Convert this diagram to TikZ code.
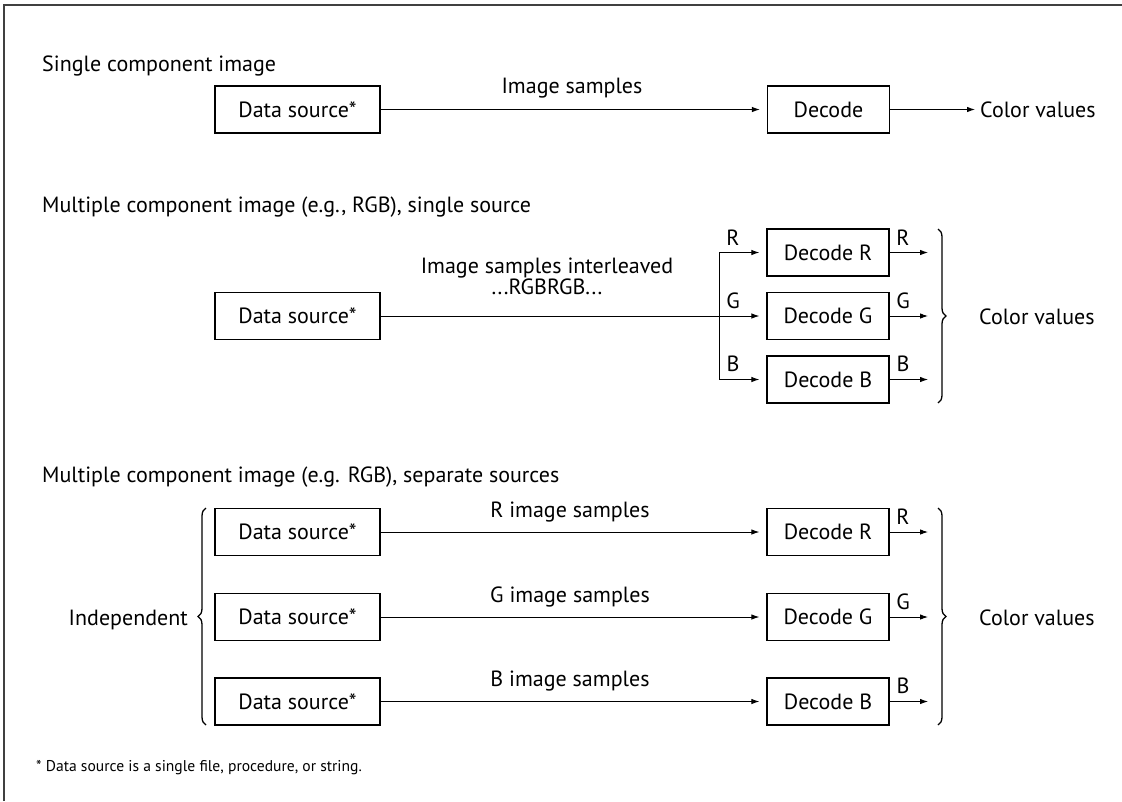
\documentclass[tikz,border=0pt]{standalone}
\usepackage{fontspec}
\setmainfont{PT Sans}
\usetikzlibrary{arrows.meta,decorations.pathreplacing}
\begin{document}
\begin{tikzpicture}[x=1pt,y=-1pt,
  every node/.style={font=\fontsize{22}{24}\selectfont, inner sep=0pt},
  box/.style={draw, line width=1.3pt, minimum height=47pt, text height=15pt, text depth=0pt},
  src/.style={box, minimum width=165pt},
  dec/.style={box, minimum width=122pt},
  conn/.style={line width=0.9pt, -{Latex[length=8pt,width=5.5pt]}},
  gap/.style={shorten >=7pt},
  lbl/.style={anchor=base},
  title/.style={anchor=base west},
  brc/.style={decorate, decoration={brace, amplitude=8pt}, line width=1.3pt},
  frame/.style={line width=1.5pt, black!75}
]
\useasboundingbox (0,0) rectangle (1122,801);
\draw[frame] (4,801) -- (4,5) -- (1122,5);

% ---- Single component image
\node[title] (t1) at (42,71) {Single component image};
\node[src] (s1) at (297.5,109.5) {Data source*};
\node[dec] (d1) at (828.5,109.5) {Decode};
\node[lbl] (l1) at (572,93) {Image samples};
\draw[conn,gap] (s1) -- (d1);
\coordinate (o1) at (975,109.5);
\draw[conn] (d1) -- (o1);
\node[anchor=base west] (c1) at (980,117) {Color values};

% ---- Multiple component, single source
\node[title] (t2) at (42,212) {Multiple component image (e.g., RGB), single source};
\node[src] (s2) at (297.5,316) {Data source*};
\node[dec] (d2r) at (828,252.5) {Decode R};
\node[dec] (d2g) at (828,316) {Decode G};
\node[dec] (d2b) at (828,379.5) {Decode B};
\node[anchor=south, align=center, font=\fontsize{22}{15.5}\selectfont] (l2) at (547,295) {Image samples interleaved\\...RGBRGB...};
\coordinate (br) at (719,316);
\draw[conn,gap] (s2) -- (d2g);
\draw[conn,gap] (br) |- (d2r);
\draw[conn,gap] (br) |- (d2b);
\node[lbl] (iR) at (733,245) {R};
\node[lbl] (iG) at (733,308) {G};
\node[lbl] (iB) at (733,371.5) {B};
\coordinate (o2r) at (928,252.5);
\coordinate (o2g) at (928,316);
\coordinate (o2b) at (928,379.5);
\draw[conn] (d2r) -- (o2r);
\draw[conn] (d2g) -- (o2g);
\draw[conn] (d2b) -- (o2b);
\node[lbl] (oR) at (903,245) {R};
\node[lbl] (oG) at (903,308) {G};
\node[lbl] (oB) at (903,371.5) {B};
\coordinate (b2t) at (938,229);
\coordinate (b2b) at (938,403);
\draw[brc] (b2t) -- (b2b);
\node[anchor=base west] (c2) at (979,324) {Color values};

% ---- Multiple component, separate sources
\node[title] (t3) at (42,482) {Multiple component image (e.g. RGB), separate sources};
\node[src] (s3r) at (297.5,532) {Data source*};
\node[src] (s3g) at (297.5,617) {Data source*};
\node[src] (s3b) at (297.5,701.5) {Data source*};
\node[dec] (d3r) at (828,532) {Decode R};
\node[dec] (d3g) at (828,617) {Decode G};
\node[dec] (d3b) at (828,701.5) {Decode B};
\draw[conn,gap] (s3r) -- (d3r);
\draw[conn,gap] (s3g) -- (d3g);
\draw[conn,gap] (s3b) -- (d3b);
\node[lbl] (l3r) at (570,517) {R image samples};
\node[lbl] (l3g) at (570,602) {G image samples};
\node[lbl] (l3b) at (570,686.5) {B image samples};
\coordinate (o3r) at (928,532);
\coordinate (o3g) at (928,617);
\coordinate (o3b) at (928,701.5);
\draw[conn] (d3r) -- (o3r);
\draw[conn] (d3g) -- (o3g);
\draw[conn] (d3b) -- (o3b);
\node[lbl] (pR) at (903,524) {R};
\node[lbl] (pG) at (903,609) {G};
\node[lbl] (pB) at (903,693.5) {B};
\coordinate (b3t) at (938,508);
\coordinate (b3b) at (938,725);
\draw[brc] (b3t) -- (b3b);
\node[anchor=base west] (c3) at (979,625) {Color values};
\coordinate (b4b) at (206,725);
\coordinate (b4t) at (206,508);
\draw[brc] (b4b) -- (b4t);
\node[anchor=base east] (ind) at (188,625) {Independent};

% ---- footnote
\node[anchor=base west, font=\fontsize{15.6}{17}\selectfont] (fn) at (36,771) {* Data source is a single file, procedure, or string.};
\end{tikzpicture}
\end{document}
